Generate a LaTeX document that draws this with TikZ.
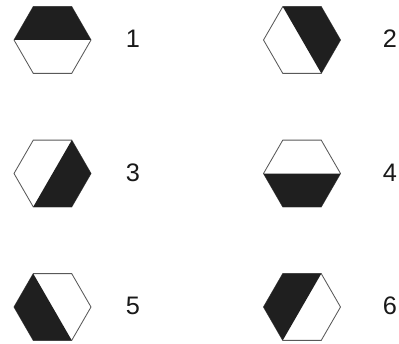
\documentclass[tikz,border=0pt]{standalone}
\usepackage{fontspec}
\setmainfont{Liberation Sans}
\usepackage{tikz}

\tikzset{
  hexline/.style={draw=black!65, fill=white, line width=0.6pt},
  hexdark/.style={fill=black!88},
  numlabel/.style={font=\fontsize{18}{20}\selectfont, text=black!90, inner sep=0pt}
}

\begin{document}
\begin{tikzpicture}[x=0.025cm,y=0.025cm]
    \useasboundingbox (0,0) rectangle (399,343);
    % centre x / centre y / first corner of the dark half / label x / label
    \foreach \cx/\cy/\ang/\lx/\lbl in {52.5/303/0/133/1, 302/303/300/390/2,
                                      52.5/169.5/240/133/3, 302/169.5/180/390/4,
                                      52.5/36/120/133/5, 302/36/60/390/6} {
      \begin{scope}[shift={(\cx,\cy)}]
        % white hexagon with its outline
        \draw[hexline] (0:38.5) -- (60:38.5) -- (120:38.5) -- (180:38.5)
                       -- (240:38.5) -- (300:38.5) -- cycle;
        % dark half, cut between two opposite corners
        \fill[hexdark] ({\ang}:38.5) -- ({\ang+60}:38.5) -- ({\ang+120}:38.5)
                       -- ({\ang+180}:38.5) -- cycle;
      \end{scope}
      \node[numlabel] (num\lbl) at (\lx,\cy+1) {\lbl};
    }
\end{tikzpicture}
\end{document}
